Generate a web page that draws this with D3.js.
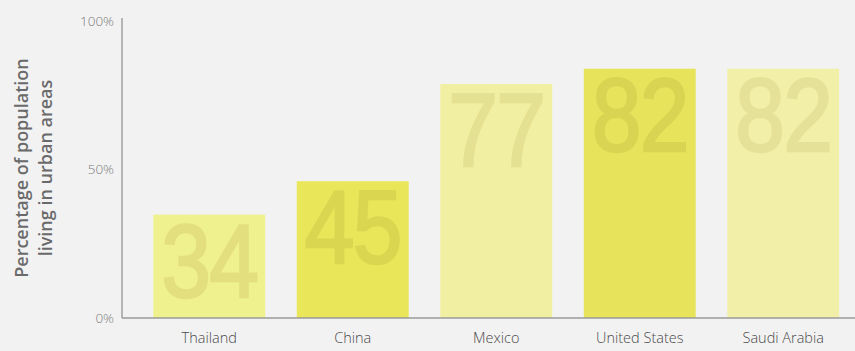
<!DOCTYPE html>
<meta charset="utf-8">
<style>
body { margin: 0; background: #f2f2f3; }
.tick-label { font: 300 13.5px "Open Sans", "Liberation Sans", sans-serif; fill: #7a7a7a; }
.cat-label { font: 300 14.5px "Open Sans", "Liberation Sans", sans-serif; fill: #4a4a4a; text-anchor: middle; }
.big { font-family: "Liberation Sans", Arial, sans-serif; font-size: 104px; text-anchor: middle; }
.ytitle { font: 600 18px "Open Sans", "Liberation Sans", sans-serif; fill: #6a6a6a; text-anchor: middle; }
</style>
<svg width="855" height="351"></svg>
<script src="https://d3js.org/d3.v7.min.js"></script>
<script>

var countries = ["Thailand", "China", "Mexico", "United States", "Saudi Arabia"];
var urbanPct = [34, 45, 77, 82, 82];
var barColours = ["#eff18f", "#e9e65a", "#f1f0a2", "#e7e45c", "#f1efa8"];
var digitColours = ["#e3df7e", "#dbd650", "#e5e192", "#d9d452", "#e5e198"];
var yTicks = [0, 50, 100];

var svg = d3.select("svg");

svg.append("rect").attr("width", 855).attr("height", 351).attr("fill", "#f2f2f3");

var x = d3.scaleBand()
    .domain(countries)
    .range([137.5, 855])
    .paddingInner(0.22)
    .paddingOuter(0.11);

var y = d3.scaleLinear()
    .domain([0, 100])
    .range([318, 14]);

var data = countries.map(function(c, i) { return { name: c, value: urbanPct[i], i: i }; });

// bars
svg.selectAll(".bar")
  .data(data)
  .enter().append("rect")
    .attr("class", "bar")
    .attr("x", function(d) { return x(d.name); })
    .attr("y", function(d) { return y(d.value); })
    .attr("width", x.bandwidth())
    .attr("height", function(d) { return y(0) - y(d.value); })
    .attr("fill", function(d) { return barColours[d.i]; });

// big value numbers inside the bars, squeezed a bit and thickened with a stroke
svg.selectAll(".big")
  .data(data)
  .enter().append("text")
    .attr("class", "big")
    .attr("transform", function(d) {
      return "translate(" + (x(d.name) + x.bandwidth() / 2) + "," + (y(d.value) + 82) + ") scale(0.86,1)";
    })
    .attr("fill", function(d) { return digitColours[d.i]; })
    .attr("stroke", function(d) { return digitColours[d.i]; })
    .attr("stroke-width", 2.5)
    .attr("letter-spacing", -2)
    .text(function(d) { return d.value; });

// axes lines
svg.append("line")
    .attr("x1", 122).attr("x2", 122)
    .attr("y1", 18).attr("y2", y(0))
    .attr("stroke", "#a0a0a0").attr("stroke-width", 1.5);

svg.append("line")
    .attr("x1", 122).attr("x2", 855)
    .attr("y1", y(0)).attr("y2", y(0))
    .attr("stroke", "#9a9a9a").attr("stroke-width", 1.5);

// y tick labels
svg.selectAll(".tick-label")
  .data(yTicks)
  .enter().append("text")
    .attr("class", "tick-label")
    .attr("x", 114)
    .attr("y", function(d) { return y(d) + (d == 100 ? 7 : d == 50 ? 3 : 0); })
    .attr("dy", "0.35em")
    .attr("text-anchor", "end")
    .text(function(d) { return d + "%"; });

// category labels
svg.selectAll(".cat-label")
  .data(data)
  .enter().append("text")
    .attr("class", "cat-label")
    .attr("x", function(d) { return x(d.name) + x.bandwidth() / 2; })
    .attr("y", 343)
    .text(function(d) { return d.name; });

// y axis title
var yt = svg.append("text")
    .attr("class", "ytitle")
    .attr("transform", "translate(0,168) rotate(-90)");
yt.append("tspan").attr("x", 0).attr("y", 28).text("Percentage of population");
yt.append("tspan").attr("x", 0).attr("y", 52).text("living in urban areas");

</script>
